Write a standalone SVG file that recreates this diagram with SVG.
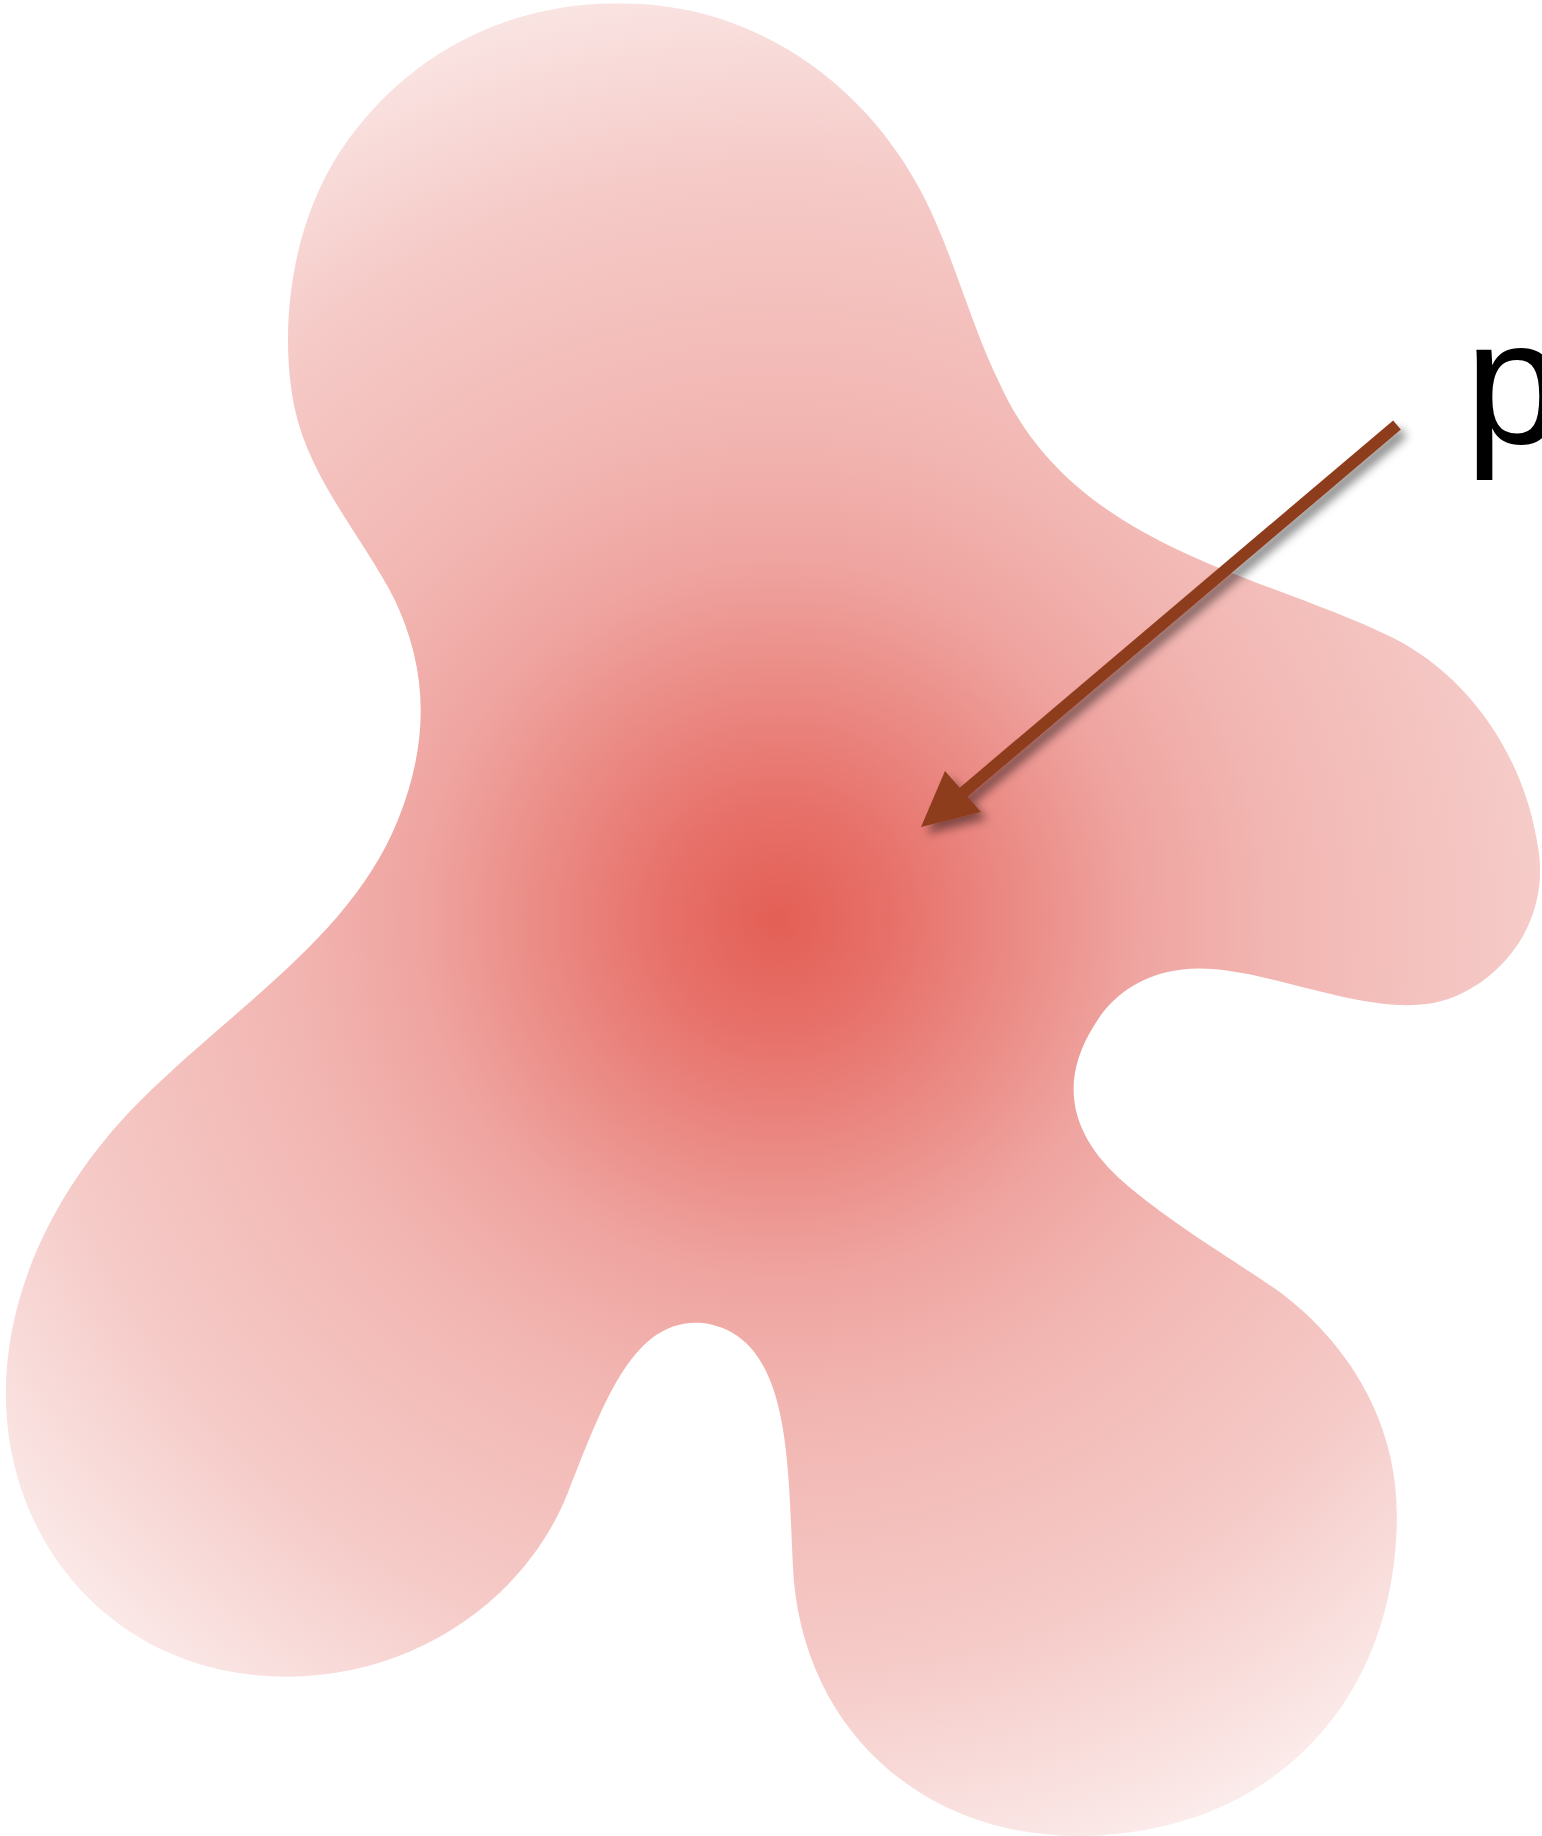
<svg xmlns="http://www.w3.org/2000/svg" width="1542" height="1836" viewBox="0 0 1542 1836">
<style>
.label{font-family:"Liberation Sans",Arial,sans-serif;font-size:176px;fill:#000}
.arrow{fill:#8e3c1f;stroke:none}
</style>
<defs>
<radialGradient id="blobGrad" gradientUnits="userSpaceOnUse" cx="665" cy="785" r="850">
<stop offset="0" stop-color="#e35f55"/>
<stop offset="0.12" stop-color="#e7726b"/>
<stop offset="0.24" stop-color="#eb8b85"/>
<stop offset="0.36" stop-color="#efa4a0"/>
<stop offset="0.5" stop-color="#f2b6b2"/>
<stop offset="0.75" stop-color="#f5cac7"/>
<stop offset="1" stop-color="#fbeceb"/>
</radialGradient>
<filter id="shadow" x="-20%" y="-20%" width="140%" height="140%">
<feDropShadow dx="6" dy="7" stdDeviation="5" flood-color="#000" flood-opacity="0.45"/>
</filter>
</defs>
<rect width="1542" height="1836" fill="#fff"/>
<g id="blob">
<path fill="url(#blobGrad)" transform="scale(1.17084)" d="M 525 3 C 640 0 740 70 790 170 C 815 220 830 280 855 330 C 920 470 1080 490 1190 545 C 1250 575 1300 640 1313 720 C 1325 780 1290 830 1245 850 C 1180 880 1080 820 1010 828 C 975 832 950 850 935 875 C 900 930 920 975 960 1010 C 1000 1045 1060 1080 1095 1105 C 1160 1155 1195 1225 1193 1300 C 1190 1460 1080 1568 920 1568 C 790 1568 690 1480 678 1350 C 672 1260 680 1140 600 1130 C 540 1125 515 1200 485 1275 C 447 1370 350 1432 245 1432 C 100 1432 5 1320 5 1190 C 5 1100 50 1010 120 940 C 200 860 300 800 340 700 C 370 625 362 565 337 512 C 312 462 265 410 252 350 C 239 290 245 200 290 130 C 350 40 440 3 525 3 Z"/>
</g>
<g id="connectors" filter="url(#shadow)">
<line x1="1397" y1="425" x2="958" y2="797" stroke="#8e3c1f" stroke-width="12"/>
<polygon class="arrow" points="921,827 945,771 981,812"/>
</g>
<g id="label-p">
<text class="label" x="1465" y="443">p</text>
</g>
</svg>
